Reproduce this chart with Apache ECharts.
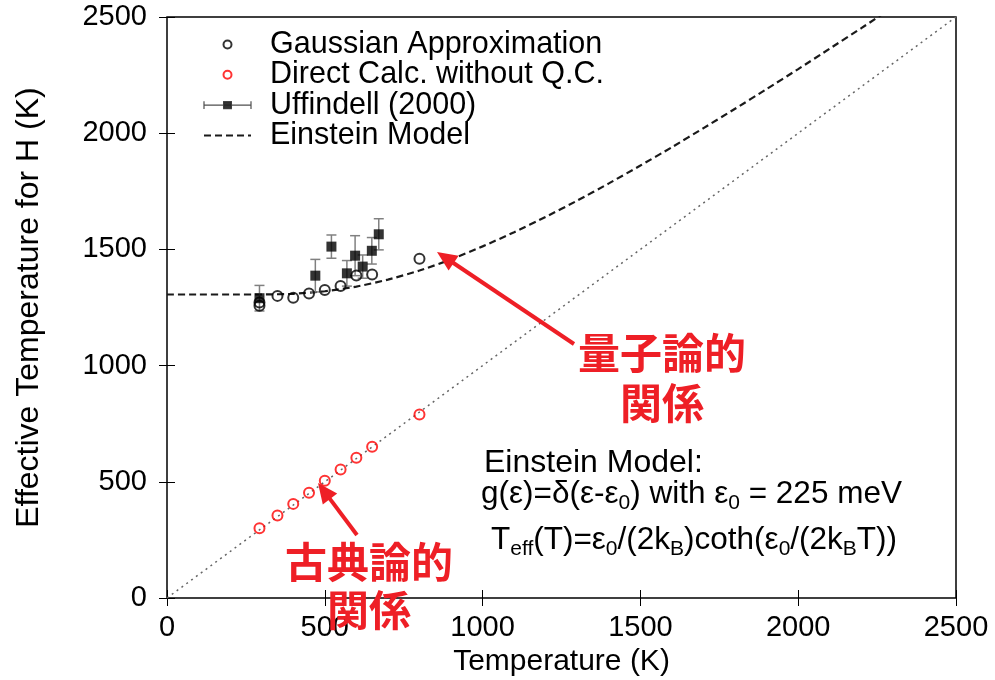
<!DOCTYPE html>
<html>
<head>
<meta charset="utf-8">
<script src="https://cdn.jsdelivr.net/npm/echarts@6/dist/echarts.min.js"></script>
<style>
  html, body { margin: 0; padding: 0; background: #fff; }
  #chart { width: 995px; height: 680px; }
</style>
</head>
<body>
<div id="chart"></div>
<script>
// Gaussian approximation (open black circles)
const tempGauss = [293, 293, 350, 400, 450, 500, 550, 600, 650, 800];
const teffGauss = [1272, 1258, 1300, 1292, 1310, 1325, 1343, 1388, 1392, 1460];

// Direct calculation without quantum correction (open red circles)
const tempDirect = [293, 350, 400, 450, 500, 550, 600, 650, 800];
const teffDirect = [300, 355, 405, 453, 505, 553, 603, 651, 790];

// Uffindell (2000) measurements with error bars
const tempUff = [293, 470, 521, 570, 596, 620, 649, 671];
const teffUff = [1290, 1387, 1512, 1397, 1473, 1426, 1494, 1565];
const errUff  = [55, 70, 50, 55, 86, 50, 57, 67];

// Einstein model curve, eps0 = 225 meV
const tempModel = [0, 100, 200, 300, 400, 500, 600, 700, 800, 900, 1000, 1100, 1200, 1300, 1400, 1500,
                   1600, 1700, 1800, 1900, 2000, 2100, 2200, 2300];
const teffModel = [1306, 1306, 1306, 1306, 1309, 1320, 1340, 1370, 1409, 1457, 1513, 1574, 1640, 1710, 1784, 1861,
                   1940, 2022, 2105, 2190, 2276, 2364, 2452, 2542];

// Classical reference line Teff = T
const tempDiag = [0, 2500];
const teffDiag = [0, 2500];

// Axis ticks
const axisMin = 0, axisMax = 2500, axisStep = 500;

const seriesNames = ['Gaussian Approximation', 'Direct Calc. without Q.C.', 'Uffindell (2000)', 'Einstein Model'];

const zip = (a, b) => a.map((v, i) => [v, b[i]]);
const FONT = "'Liberation Sans', Arial, Helvetica, sans-serif";
const CJK = "'Noto Sans CJK JP', 'Noto Sans CJK SC', sans-serif";
const RED = '#ee1f26';

const chart = echarts.init(document.getElementById('chart'), null, { renderer: 'canvas' });

const baseX = {
  type: 'value', min: axisMin, max: axisMax, interval: axisStep,
  axisLine: { show: false },
  axisTick: { show: true, inside: true, length: 8, lineStyle: { color: '#000', width: 1 } },
  splitLine: { show: false }
};
const plain = v => String(v);

function arrow(tail, tip) {
  const dx = tip[0] - tail[0], dy = tip[1] - tail[1];
  const len = Math.hypot(dx, dy);
  const ux = dx / len, uy = dy / len;
  const headLen = 20, headHalf = 9;
  const bx = tip[0] - ux * headLen, by = tip[1] - uy * headLen;
  return [
    { type: 'line', shape: { x1: tail[0], y1: tail[1], x2: bx + ux * 2, y2: by + uy * 2 },
      style: { stroke: RED, lineWidth: 4 }, z: 100 },
    { type: 'polygon', shape: { points: [tip, [bx - uy * headHalf, by + ux * headHalf], [bx + uy * headHalf, by - ux * headHalf]] },
      style: { fill: RED }, z: 100 }
  ];
}

const subRich = { s: { fontSize: 21, fontFamily: FONT, lineHeight: 16, verticalAlign: 'bottom' } };

const option = {
  backgroundColor: '#fff',
  animation: false,
  textStyle: { fontFamily: FONT },
  grid: { left: 167, right: 39, top: 17, bottom: 82, outerBoundsMode: 'none', containLabel: false,
          show: true, borderColor: '#000', borderWidth: 1.5, backgroundColor: 'transparent' },
  legend: {
    data: [
      { name: seriesNames[0] },
      { name: seriesNames[1] },
      { name: seriesNames[2], icon: 'path://M0,5H48M0,1V9M48,1V9M20,1.5H28V8.5H20Z',
        itemStyle: { color: '#000', borderColor: '#222', borderWidth: 1.2 } },
      { name: seriesNames[3], itemStyle: { opacity: 0 } }
    ],
    orient: 'vertical',
    left: 203, top: 29, padding: 0,
    itemWidth: 47, itemHeight: 8, itemGap: -0.7,
    selectedMode: false,
    textStyle: { fontFamily: FONT, fontSize: 30.5, color: '#000', padding: [0, 0, 0, 14] }
  },
  xAxis: [
    Object.assign({}, baseX, {
      position: 'bottom',
      name: 'Temperature (K)', nameLocation: 'middle', nameGap: 39,
      nameTextStyle: { fontFamily: FONT, fontSize: 30, color: '#000' },
      axisLabel: { fontFamily: FONT, fontSize: 29, color: '#000', margin: 15, formatter: plain }
    }),
    Object.assign({}, baseX, { position: 'top', axisLabel: { show: false } })
  ],
  yAxis: [
    Object.assign({}, baseX, {
      position: 'left',
      name: 'Effective Temperature for H (K)', nameLocation: 'middle', nameGap: 122,
      nameTextStyle: { fontFamily: FONT, fontSize: 32, color: '#000' },
      axisLabel: { fontFamily: FONT, fontSize: 29, color: '#000', margin: 20, formatter: plain }
    }),
    Object.assign({}, baseX, { position: 'right', axisLabel: { show: false } })
  ],
  series: [
    {
      name: 'Teff = T', type: 'line', data: zip(tempDiag, teffDiag),
      symbol: 'none', silent: true, z: 1,
      lineStyle: { color: '#666', width: 1.5, type: [2, 4] }
    },
    {
      name: seriesNames[3], type: 'line', data: zip(tempModel, teffModel),
      symbol: 'none', smooth: 0.2, clip: true, z: 2,
      lineStyle: { color: '#1a1a1a', width: 2.2, type: [7, 4] },
      itemStyle: { color: '#1a1a1a' }
    },
    {
      name: 'error', type: 'custom', z: 3,
      data: tempUff.map((t, i) => [t, teffUff[i] - errUff[i], teffUff[i] + errUff[i]]),
      renderItem: function (params, api) {
        const t = api.value(0);
        const lo = api.coord([t, api.value(1)]);
        const hi = api.coord([t, api.value(2)]);
        const hw = 5;
        const st = { stroke: '#808080', lineWidth: 1.5 };
        return {
          type: 'group', children: [
            { type: 'line', shape: { x1: hi[0], y1: hi[1], x2: lo[0], y2: lo[1] }, style: st },
            { type: 'line', shape: { x1: hi[0] - hw, y1: hi[1], x2: hi[0] + hw, y2: hi[1] }, style: st },
            { type: 'line', shape: { x1: lo[0] - hw, y1: lo[1], x2: lo[0] + hw, y2: lo[1] }, style: st }
          ]
        };
      }
    },
    {
      name: seriesNames[2], type: 'scatter', data: zip(tempUff, teffUff), z: 4,
      symbol: 'rect', symbolSize: 10,
      itemStyle: { color: '#000' }
    },
    {
      name: seriesNames[0], type: 'scatter', data: zip(tempGauss, teffGauss), z: 5,
      symbol: 'circle', symbolSize: 10,
      itemStyle: { color: 'rgba(255,255,255,0)', borderColor: '#000', borderWidth: 2 }
    },
    {
      name: seriesNames[1], type: 'scatter', data: zip(tempDirect, teffDirect), z: 5,
      symbol: 'circle', symbolSize: 10,
      itemStyle: { color: 'rgba(255,255,255,0)', borderColor: '#f00', borderWidth: 2 }
    }
  ],
  graphic: [
    // Einstein model description
    { type: 'text', z: 50, style: { text: 'Einstein Model:', x: 484, y: 463, verticalAlign: 'middle',
      font: '32px ' + FONT, fill: '#000' } },
    { type: 'text', z: 50, style: {
      text: 'g(ε)=δ(ε-ε{s|0}) with ε{s|0} = 225 meV', x: 481, y: 494, verticalAlign: 'middle',
      font: '31.5px ' + FONT, fill: '#000', lineHeight: 40, rich: subRich } },
    { type: 'text', z: 50, style: {
      text: 'T{s|eff}(T)=ε{s|0}/(2k{s|B})coth(ε{s|0}/(2k{s|B}T))', x: 491, y: 540, verticalAlign: 'middle',
      font: '31.5px ' + FONT, fill: '#000', lineHeight: 40, rich: subRich } },
    // annotations
    { type: 'text', z: 60, style: { text: '量子論的\n関係', x: 662, y: 378, align: 'center', verticalAlign: 'middle',
      font: 'bold 42px ' + CJK, fill: RED, lineHeight: 50 } },
    { type: 'text', z: 60, style: { text: '古典論的\n関係', x: 369, y: 586, align: 'center', verticalAlign: 'middle',
      font: 'bold 42px ' + CJK, fill: RED, lineHeight: 48 } }
  ].concat(arrow([574, 344], [437, 252]), arrow([357, 535], [318, 483]))
};

chart.setOption(option);
</script>
</body>
</html>
